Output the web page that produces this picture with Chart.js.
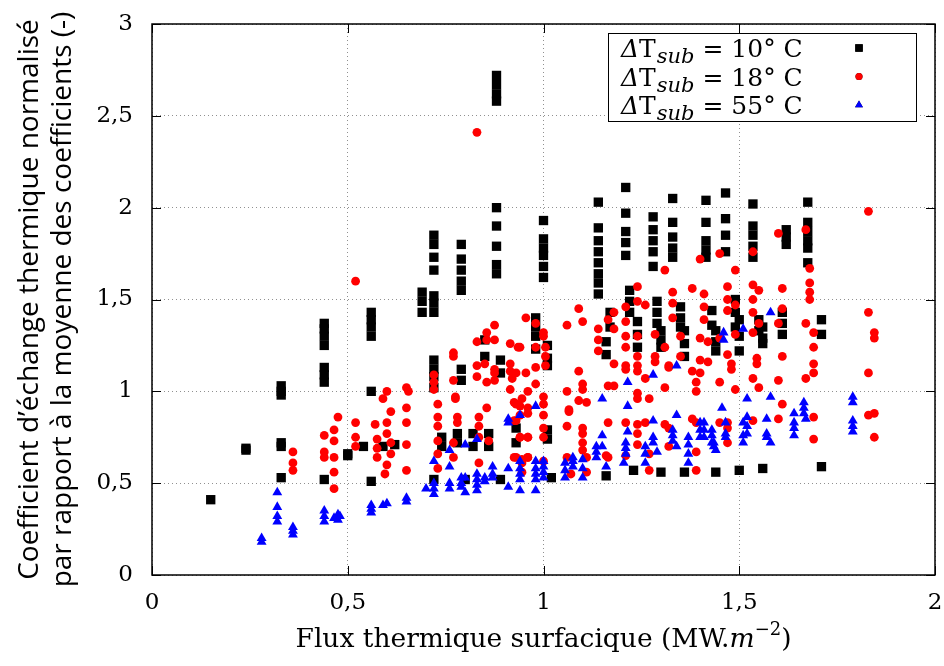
<!DOCTYPE html>
<html>
<head>
<meta charset="utf-8">
<script src="https://cdn.jsdelivr.net/npm/chart.js@4"></script>
<style>
  html, body { margin: 0; background: #fff; }
  canvas { display: block; }
</style>
</head>
<body>
<canvas id="chart" width="944" height="666"></canvas>
<script>
// Sub-cooling 10 °C (black squares): [heat flux MW/m2, normalised coefficient]
const SUB10 = [
    [0.15, 0.41], [0.24, 0.69], [0.24, 0.68],
    [0.33, 1.03], [0.33, 1.00], [0.33, 0.98], [0.33, 0.72], [0.33, 0.70], [0.33, 0.53],
    [0.44, 1.37], [0.44, 1.34], [0.44, 1.30], [0.44, 1.25], [0.44, 1.13], [0.44, 1.09], [0.44, 1.05], [0.44, 0.52],
    [0.50, 0.66], [0.50, 0.65],
    [0.56, 1.43], [0.56, 1.39], [0.56, 1.35], [0.56, 1.30], [0.56, 1.00], [0.54, 0.70], [0.59, 0.70], [0.62, 0.71], [0.56, 0.51],
    [0.69, 1.54], [0.69, 1.49], [0.69, 1.43],
    [0.72, 1.85], [0.72, 1.80], [0.72, 1.73], [0.72, 1.66], [0.72, 1.52], [0.72, 1.48], [0.72, 1.43],
    [0.72, 1.17], [0.72, 1.12], [0.72, 1.08], [0.72, 1.02], [0.74, 0.75], [0.74, 0.70], [0.72, 0.52],
    [0.79, 1.80], [0.79, 1.72], [0.79, 1.66], [0.79, 1.60], [0.79, 1.55], [0.79, 1.12], [0.79, 1.06],
    [0.78, 0.77], [0.78, 0.72], [0.80, 0.52], [0.82, 0.77], [0.82, 0.70],
    [0.88, 2.72], [0.88, 2.67], [0.88, 2.62], [0.88, 2.58], [0.88, 2.00], [0.88, 1.90], [0.88, 1.79], [0.88, 1.69], [0.88, 1.64],
    [0.85, 1.28], [0.85, 1.19], [0.89, 1.17], [0.89, 1.10], [0.86, 0.77], [0.86, 0.70], [0.89, 0.52],
    [0.93, 0.80], [0.93, 0.72],
    [0.98, 1.40], [0.98, 1.35], [0.98, 1.30], [0.98, 1.23],
    [1.00, 1.93], [1.00, 1.83], [1.00, 1.78], [1.00, 1.74], [1.00, 1.68], [1.00, 1.62],
    [1.01, 1.25], [1.01, 1.18], [1.01, 1.14], [1.01, 0.79], [1.01, 0.74], [1.02, 0.53],
    [1.14, 2.03], [1.14, 1.89], [1.14, 1.82], [1.14, 1.76], [1.14, 1.70], [1.14, 1.64], [1.14, 1.59], [1.14, 1.53],
    [1.17, 1.43], [1.17, 1.35], [1.16, 1.27], [1.16, 1.20], [1.16, 0.54],
    [1.21, 2.11], [1.21, 1.97], [1.21, 1.87], [1.21, 1.81], [1.21, 1.74], [1.22, 1.55], [1.22, 1.49], [1.22, 1.43],
    [1.24, 1.38], [1.24, 1.31], [1.24, 1.24], [1.23, 0.57],
    [1.28, 1.95], [1.28, 1.88], [1.28, 1.82], [1.28, 1.76], [1.28, 1.68], [1.29, 1.49], [1.29, 1.43], [1.29, 1.37],
    [1.30, 1.33], [1.30, 1.28], [1.30, 1.24], [1.30, 0.56],
    [1.33, 2.05], [1.33, 1.92], [1.33, 1.84], [1.33, 1.78], [1.33, 1.73], [1.35, 1.46], [1.35, 1.40], [1.35, 1.35],
    [1.36, 1.33], [1.36, 1.26], [1.36, 1.19], [1.36, 0.56],
    [1.415, 2.04], [1.415, 1.92], [1.415, 1.82], [1.415, 1.77], [1.415, 1.73], [1.43, 1.44], [1.43, 1.36],
    [1.44, 1.33], [1.44, 1.27], [1.44, 1.22], [1.44, 0.56],
    [1.465, 2.08], [1.465, 1.94], [1.465, 1.85], [1.465, 1.76], [1.49, 1.50], [1.49, 1.43], [1.49, 1.35],
    [1.50, 1.39], [1.50, 1.30], [1.50, 1.22], [1.50, 0.57],
    [1.535, 2.02], [1.535, 1.90], [1.535, 1.85], [1.535, 1.79], [1.535, 1.73], [1.55, 1.39], [1.55, 1.33],
    [1.56, 1.35], [1.56, 1.29], [1.56, 1.26], [1.56, 0.58],
    [1.62, 1.88], [1.62, 1.84], [1.62, 1.80], [1.61, 1.43], [1.61, 1.37], [1.61, 1.31],
    [1.675, 2.03], [1.675, 1.92], [1.675, 1.87], [1.675, 1.82], [1.675, 1.78], [1.675, 1.70],
    [1.71, 1.39], [1.71, 1.31], [1.71, 0.59],
];

// Sub-cooling 18 °C (red circles)
const SUB18 = [
    [0.36, 0.67], [0.36, 0.61], [0.36, 0.57],
    [0.44, 0.76], [0.44, 0.67], [0.44, 0.64],
    [0.475, 0.86], [0.465, 0.79], [0.465, 0.73], [0.465, 0.64], [0.465, 0.56], [0.465, 0.47],
    [0.52, 1.60], [0.52, 0.83], [0.52, 0.75], [0.52, 0.70],
    [0.57, 0.82], [0.575, 0.74], [0.575, 0.69], [0.575, 0.64],
    [0.59, 0.96], [0.60, 1.00], [0.61, 0.89], [0.60, 0.83], [0.60, 0.77], [0.61, 0.72], [0.61, 0.66], [0.60, 0.60], [0.595, 0.55],
    [0.65, 1.02], [0.655, 1.00], [0.65, 0.91], [0.65, 0.83], [0.65, 0.71], [0.65, 0.57],
    [0.72, 1.09], [0.72, 1.05], [0.72, 1.01], [0.73, 0.93], [0.73, 0.86], [0.73, 0.81], [0.73, 0.73], [0.73, 0.66], [0.73, 0.58],
    [0.77, 1.21], [0.77, 1.19], [0.77, 1.06], [0.775, 0.97], [0.775, 0.96], [0.78, 0.86], [0.78, 0.83], [0.77, 0.72], [0.77, 0.64],
    [0.83, 2.41],
    [0.83, 1.27], [0.83, 1.14], [0.83, 1.08], [0.835, 0.86], [0.835, 0.81], [0.835, 0.75], [0.835, 0.61],
    [0.855, 1.32], [0.85, 1.15], [0.855, 1.05], [0.855, 0.91], [0.86, 0.73], [0.855, 1.28],
    [0.875, 1.36], [0.875, 1.28], [0.875, 1.12], [0.875, 1.10], [0.875, 1.06],
    [0.915, 1.26], [0.915, 1.15], [0.915, 1.11], [0.92, 1.07], [0.915, 1.01], [0.925, 0.94], [0.925, 0.84], [0.925, 0.64], [0.93, 1.10],
    [0.94, 1.24], [0.94, 0.92], [0.94, 0.75], [0.935, 1.24],
    [0.955, 1.40], [0.955, 1.10], [0.96, 1.00], [0.96, 0.88], [0.96, 0.75], [0.96, 0.64], [0.945, 0.61], [0.945, 0.56], [0.94, 0.87],
    [0.98, 1.37], [0.98, 1.24], [0.98, 1.13], [0.98, 1.04],
    [1.00, 1.32], [1.00, 1.30], [1.005, 1.24], [1.005, 1.19], [1.005, 1.14], [1.00, 0.97], [1.00, 0.93], [1.00, 0.87],
    [1.00, 0.80], [1.00, 0.75], [1.00, 0.62],
    [0.93, 0.93], [0.945, 0.96], [0.96, 0.91], [0.93, 0.84], [0.94, 0.75], [0.96, 0.75], [0.93, 0.64], [0.945, 0.63], [0.96, 0.64],
    [1.06, 1.36], [1.09, 1.45], [1.10, 1.38], [1.09, 1.11], [1.10, 1.04], [1.10, 1.01], [1.06, 1.00], [1.09, 0.95],
    [1.11, 0.94], [1.065, 0.89], [1.065, 0.90], [1.06, 0.81], [1.10, 0.80], [1.10, 0.77], [1.10, 0.68], [1.11, 0.64],
    [1.11, 0.56], [1.07, 0.55], [1.06, 0.64], [1.10, 0.72],
    [1.14, 1.34], [1.14, 1.28], [1.14, 1.22], [1.165, 1.39], [1.18, 1.43], [1.18, 1.34], [1.18, 1.15], [1.165, 1.03],
    [1.18, 1.03], [1.165, 0.83], [1.16, 0.65], [1.165, 0.64],
    [1.21, 1.46], [1.24, 1.57], [1.24, 1.49], [1.26, 1.47], [1.21, 1.38], [1.21, 1.30], [1.21, 1.24], [1.24, 1.30],
    [1.21, 1.14], [1.21, 1.12], [1.24, 1.19], [1.24, 1.14], [1.24, 1.11], [1.26, 1.07], [1.24, 0.99], [1.24, 0.96],
    [1.27, 0.96], [1.21, 0.83], [1.24, 0.82], [1.26, 0.83], [1.24, 0.77], [1.24, 0.71], [1.27, 0.66], [1.21, 0.65], [1.27, 0.57],
    [1.31, 1.66], [1.285, 1.31], [1.31, 1.24], [1.285, 1.19], [1.285, 1.16], [1.32, 1.14], [1.32, 1.13], [1.31, 1.02],
    [1.31, 0.82], [1.32, 0.80], [1.32, 0.70], [1.33, 1.54], [1.33, 1.48], [1.33, 1.40],
    [1.35, 1.30], [1.35, 1.19],
    [1.38, 1.56], [1.38, 1.11], [1.38, 0.85],
    [1.40, 1.72], [1.40, 1.29], [1.40, 1.17], [1.39, 1.05], [1.39, 1.00], [1.39, 0.83], [1.39, 0.67], [1.39, 0.57],
    [1.41, 1.53], [1.41, 1.46], [1.41, 1.39], [1.42, 1.27], [1.42, 1.16], [1.40, 1.10],
    [1.45, 1.75], [1.45, 1.05], [1.45, 0.83], [1.45, 1.29],
    [1.47, 1.57], [1.47, 1.50], [1.47, 1.44], [1.47, 1.20], [1.47, 0.83], [1.47, 0.80], [1.47, 0.72],
    [1.49, 1.66], [1.49, 1.47], [1.49, 1.01], [1.48, 1.15], [1.48, 1.12], [1.49, 1.31],
    [1.535, 1.76], [1.535, 1.58], [1.535, 1.50], [1.535, 1.43], [1.535, 1.32], [1.535, 1.07], [1.535, 0.84],
    [1.55, 1.55], [1.55, 1.37], [1.545, 1.18], [1.545, 1.15], [1.55, 1.02],
    [1.60, 1.86], [1.61, 1.56], [1.61, 1.45], [1.60, 1.37], [1.61, 1.19], [1.60, 1.06], [1.61, 0.93], [1.60, 0.85],
    [1.67, 1.88], [1.68, 1.67], [1.68, 1.59], [1.68, 1.54], [1.68, 1.50], [1.67, 1.37], [1.67, 1.07],
    [1.69, 1.32], [1.69, 1.24], [1.69, 1.15], [1.69, 1.10], [1.69, 0.86], [1.69, 0.74],
    [1.83, 1.98], [1.83, 1.43], [1.83, 1.10], [1.83, 0.87], [1.845, 1.32], [1.845, 1.29], [1.845, 0.88], [1.845, 0.75],
];

// Sub-cooling 55 °C (blue triangles)
const SUB55 = [
    [0.32, 0.45], [0.32, 0.37], [0.32, 0.32], [0.32, 0.29],
    [0.28, 0.20], [0.28, 0.18],
    [0.36, 0.26], [0.36, 0.24], [0.36, 0.22],
    [0.44, 0.35], [0.44, 0.32], [0.44, 0.29],
    [0.465, 0.31], [0.475, 0.33], [0.475, 0.30], [0.48, 0.32],
    [0.56, 0.38], [0.56, 0.36], [0.56, 0.34],
    [0.59, 0.38], [0.60, 0.39],
    [0.65, 0.42], [0.65, 0.40],
    [0.70, 0.47], [0.72, 0.62], [0.72, 0.50], [0.72, 0.47], [0.72, 0.44],
    [0.76, 0.68], [0.76, 0.59], [0.76, 0.50], [0.76, 0.47],
    [0.79, 0.53], [0.79, 0.50], [0.79, 0.48],
    [0.80, 0.71], [0.80, 0.53], [0.80, 0.45],
    [0.83, 0.74], [0.83, 0.52], [0.83, 0.49], [0.83, 0.46], [0.83, 0.55],
    [0.85, 0.53], [0.85, 0.51],
    [0.87, 0.59], [0.87, 0.55], [0.87, 0.53],
    [0.91, 0.85], [0.91, 0.83], [0.91, 0.58], [0.91, 0.48],
    [0.94, 0.87], [0.94, 0.58], [0.94, 0.55], [0.94, 0.52], [0.94, 0.46], [0.94, 0.62],
    [0.98, 0.92], [0.98, 0.62], [0.98, 0.58], [0.98, 0.55], [0.98, 0.52], [0.98, 0.46],
    [1.00, 0.62], [1.00, 0.59], [1.00, 0.56], [1.00, 0.53],
    [1.055, 0.61], [1.055, 0.57], [1.055, 0.53],
    [1.075, 0.64], [1.075, 0.62], [1.075, 0.59],
    [1.10, 0.63], [1.10, 0.58], [1.10, 0.53],
    [1.135, 0.70], [1.135, 0.67], [1.135, 0.64],
    [1.15, 0.96], [1.15, 0.76], [1.15, 0.70], [1.16, 0.59],
    [1.215, 1.05], [1.215, 0.92], [1.215, 0.78], [1.21, 0.72], [1.21, 0.69], [1.21, 0.66], [1.205, 0.61],
    [1.26, 0.70], [1.26, 0.66], [1.26, 0.61],
    [1.28, 1.09], [1.28, 0.84], [1.28, 0.75], [1.28, 0.72], [1.29, 0.67],
    [1.34, 1.14], [1.34, 0.87], [1.33, 0.79], [1.33, 0.76], [1.33, 0.73], [1.34, 0.70],
    [1.37, 0.75], [1.37, 0.71], [1.37, 0.66], [1.37, 0.61],
    [1.41, 0.83], [1.41, 0.79], [1.41, 0.75],
    [1.43, 0.79], [1.43, 0.76], [1.43, 0.72], [1.44, 0.68],
    [1.40, 0.83], [1.40, 0.79], [1.40, 0.75],
    [1.435, 0.72], [1.435, 0.70],
    [1.46, 1.32], [1.46, 1.28], [1.465, 0.83], [1.465, 0.77], [1.465, 0.75], [1.456, 0.91],
    [1.51, 1.34], [1.51, 0.83], [1.51, 0.76], [1.51, 0.72],
    [1.52, 0.96], [1.52, 0.86], [1.52, 0.81], [1.52, 0.77],
    [1.57, 0.85], [1.57, 0.77], [1.57, 0.75], [1.58, 0.72],
    [1.58, 1.43], [1.58, 0.97],
    [1.64, 0.88], [1.64, 0.83], [1.64, 0.80], [1.64, 0.76],
    [1.665, 0.94], [1.665, 0.91], [1.665, 0.88], [1.67, 0.85],
    [1.79, 0.97], [1.79, 0.94], [1.79, 0.84], [1.79, 0.81], [1.79, 0.78],
];

const X_TICKS = [0, 0.5, 1, 1.5, 2];
const Y_TICKS = [0, 0.5, 1, 1.5, 2, 2.5, 3];
const SERIES_LABELS = ['10° C', '18° C', '55° C'];
const SERIES_COLORS = ['#000000', '#ff0000', '#0000ff'];
const SERIES_SHAPES = ['rect', 'circle', 'triangle'];
const SERIES_RADII = [6.6, 4.4, 5.7];

const Y_TITLE = ['Coefficient d\u2019échange thermique normalisé', 'par rapport à la moyenne des coefficients (-)'];
const SERIF = '"DejaVu Serif", serif';

const toPoints = arr => arr.map(([x, y]) => ({ x, y }));
const commaNum = v => String(v).replace('.', ',');
const noPad = s => { s.paddingLeft = 0; s.paddingRight = 0; s.paddingTop = 0; s.paddingBottom = 0; };

// frame, inner ticks, legend box and axis titles (gnuplot look)
const decorations = {
    id: 'decorations',
    afterDraw(chart) {
        const { ctx, chartArea: a, scales: { x, y } } = chart;
        ctx.save();

        // inward ticks on all four sides
        ctx.strokeStyle = '#000';
        ctx.lineWidth = 1;
        ctx.beginPath();
        X_TICKS.forEach(v => {
            const px = Math.round(x.getPixelForValue(v)) + 0.5;
            ctx.moveTo(px, a.bottom); ctx.lineTo(px, a.bottom - 9);
            ctx.moveTo(px, a.top); ctx.lineTo(px, a.top + 9);
        });
        Y_TICKS.forEach(v => {
            const py = Math.round(y.getPixelForValue(v)) + 0.5;
            ctx.moveTo(a.left, py); ctx.lineTo(a.left + 9, py);
            ctx.moveTo(a.right, py); ctx.lineTo(a.right - 9, py);
        });
        ctx.stroke();

        ctx.lineWidth = 1.5;
        ctx.strokeRect(a.left, a.top, a.right - a.left, a.bottom - a.top);

        // legend
        const bx = a.right - 327, by = a.top + 9, bw = 308, bh = 88;
        ctx.fillStyle = '#fff';
        ctx.fillRect(bx, by, bw, bh);
        ctx.lineWidth = 1;
        ctx.strokeStyle = '#000';
        ctx.strokeRect(bx + 0.5, by + 0.5, bw, bh);
        SERIES_LABELS.forEach((lab, i) => {
            let tx = bx + 13;
            const base = by + 24 + i * 28.5;
            ctx.fillStyle = '#000';
            ctx.textBaseline = 'alphabetic';
            ctx.textAlign = 'left';
            ctx.font = 'italic 25px ' + SERIF;
            ctx.fillText('\u0394', tx, base);
            tx += ctx.measureText('\u0394').width;
            ctx.font = '25px ' + SERIF;
            ctx.fillText('T', tx, base);
            tx += ctx.measureText('T').width + 1;
            ctx.font = 'italic 21px ' + SERIF;
            ctx.fillText('sub', tx, base + 6);
            tx += ctx.measureText('sub').width;
            ctx.font = '25px ' + SERIF;
            ctx.fillText(' = ' + lab, tx, base);

            Chart.helpers.drawPoint(ctx, {
                pointStyle: SERIES_SHAPES[i],
                radius: SERIES_RADII[i] * 0.8,
                rotation: 0,
                borderWidth: 0,
            }, bx + 251, base - 9);
            ctx.fillStyle = SERIES_COLORS[i];
            ctx.fill();
        });

        // x title with italic m and superscript
        ctx.fillStyle = '#000';
        ctx.textBaseline = 'alphabetic';
        ctx.textAlign = 'left';
        const parts = [
            { t: 'Flux thermique surfacique (MW.', f: '26.5px ' + SERIF, dy: 0 },
            { t: 'm', f: 'italic 26.5px ' + SERIF, dy: 0 },
            { t: '\u22122', f: '18px ' + SERIF, dy: -12 },
            { t: ')', f: '26.5px ' + SERIF, dy: 0 },
        ];
        let total = 0;
        parts.forEach(p => { ctx.font = p.f; total += ctx.measureText(p.t).width; });
        let tx = (a.left + a.right) / 2 - total / 2;
        const ty = a.bottom + 72;
        parts.forEach(p => {
            ctx.font = p.f;
            ctx.fillText(p.t, tx, ty + p.dy);
            tx += ctx.measureText(p.t).width;
        });

        // y title, two rotated lines
        ctx.save();
        ctx.translate(0, (a.top + a.bottom) / 2);
        ctx.rotate(-Math.PI / 2);
        ctx.textAlign = 'center';
        ctx.textBaseline = 'middle';
        ctx.font = '28px "Open Sans", sans-serif';
        ctx.fillText(Y_TITLE[0], 0, 30);
        ctx.fillText(Y_TITLE[1], 0, 63);
        ctx.restore();

        ctx.restore();
    },
};

new Chart(document.getElementById('chart'), {
    type: 'scatter',
    data: {
        datasets: [SUB10, SUB18, SUB55].map((arr, i) => ({
            label: SERIES_LABELS[i],
            data: toPoints(arr),
            pointStyle: SERIES_SHAPES[i],
            pointRadius: SERIES_RADII[i],
            pointBorderWidth: 0,
            backgroundColor: SERIES_COLORS[i],
            borderColor: SERIES_COLORS[i],
            order: 3 - i,
        })),
    },
    options: {
        responsive: false,
        animation: false,
        devicePixelRatio: 1,
        layout: { padding: { top: 24, right: 9, left: 0, bottom: 0 } },
        plugins: { legend: { display: false }, tooltip: { enabled: false } },
        scales: {
            x: {
                type: 'linear',
                min: 0, max: 2,
                afterFit: s => { s.height = 91; noPad(s); },
                afterBuildTicks: s => { s.ticks = X_TICKS.map(value => ({ value })); },
                grid: { color: '#909090', lineWidth: 1, drawTicks: false },
                border: { display: false, dash: [1, 3] },
                ticks: {
                    padding: 14,
                    color: '#000',
                    font: { family: SERIF, size: 23 },
                    callback: commaNum,
                },
            },
            y: {
                type: 'linear',
                min: 0, max: 3,
                afterFit: s => { s.width = 152; noPad(s); },
                afterBuildTicks: s => { s.ticks = Y_TICKS.map(value => ({ value })); },
                grid: { color: '#909090', lineWidth: 1, drawTicks: false },
                border: { display: false, dash: [1, 3] },
                ticks: {
                    padding: 19,
                    color: '#000',
                    font: { family: SERIF, size: 23 },
                    callback: commaNum,
                },
            },
        },
    },
    plugins: [decorations],
});
</script>
</body>
</html>
